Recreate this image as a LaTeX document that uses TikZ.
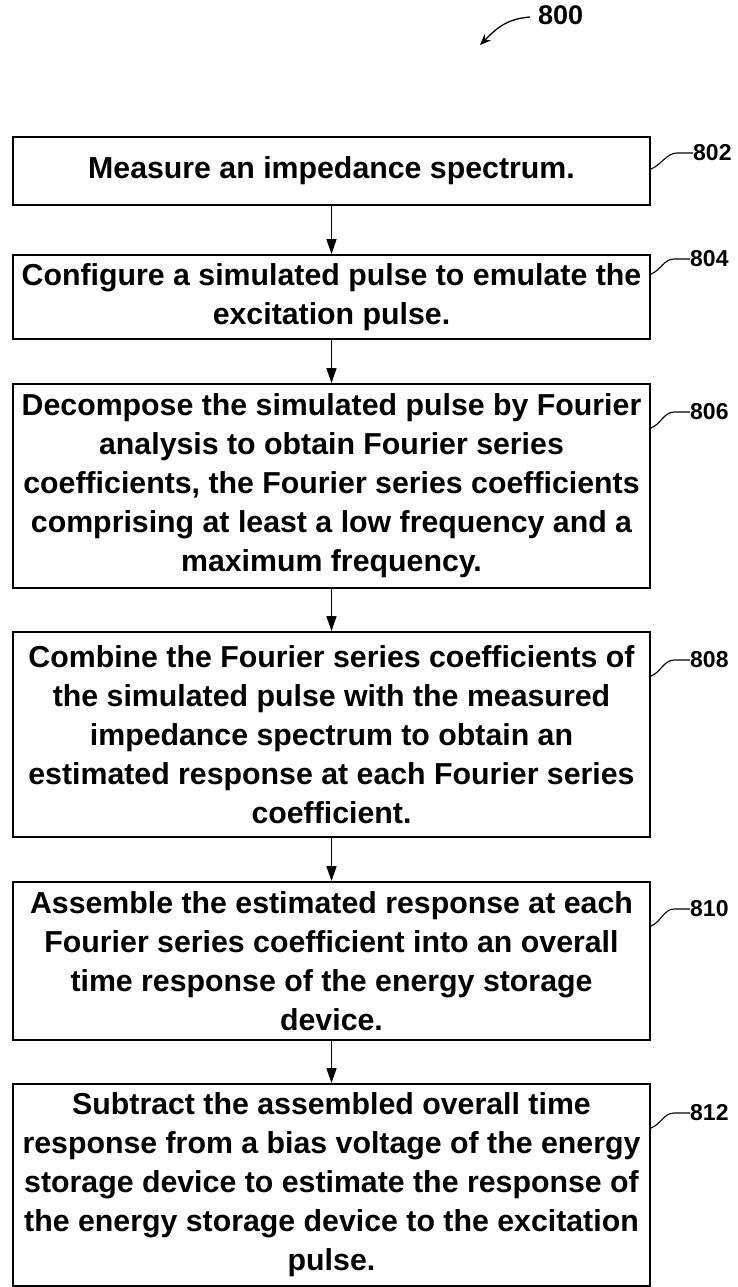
\documentclass[tikz,border=0pt]{standalone}
\usepackage{fontspec}
\setmainfont{Liberation Sans}
\usetikzlibrary{arrows.meta}
\begin{document}
\begin{tikzpicture}[x=1pt,y=-1pt,
  stepbox/.style={draw, line width=1.9pt, minimum width=637pt, inner sep=0pt, align=center,
    font=\bfseries\fontsize{30.3}{39}\selectfont},
  flow/.style={line width=1.6pt, -{Triangle[length=15pt,width=10pt]}},
  reflabel/.style={anchor=west, inner sep=0pt, font=\bfseries\fontsize{23}{26}\selectfont},
  leader/.style={line width=1.1pt}]
\useasboundingbox (0,0) rectangle (738,1287);

\node[stepbox, minimum height=68pt] (b1) at (331.5,171) {Measure an impedance spectrum.};
\node[stepbox, minimum height=84pt] (b2) at (331.5,297) {Configure a simulated pulse to emulate the\\excitation pulse.};
\node[stepbox, minimum height=204pt] (b3) at (331.5,486) {Decompose the simulated pulse by Fourier\\analysis to obtain Fourier series\\coefficients, the Fourier series coefficients\\comprising at least a low frequency and a\\maximum frequency.};
\node[stepbox, minimum height=205pt] (b4) at (331.5,734.5) {Combine the Fourier series coefficients of\\the simulated pulse with the measured\\impedance spectrum to obtain an\\estimated response at each Fourier series\\coefficient.};
\node[stepbox, minimum height=158pt] (b5) at (331.5,961) {Assemble the estimated response at each\\Fourier series coefficient into an overall\\time response of the energy storage\\device.};
\node[stepbox, minimum height=202pt] (b6) at (331.5,1185) {Subtract the assembled overall time\\response from a bias voltage of the energy\\storage device to estimate the response of\\the energy storage device to the excitation\\pulse.};

\draw[flow] (b1) -- (b2);
\draw[flow] (b2) -- (b3);
\draw[flow] (b3) -- (b4);
\draw[flow] (b4) -- (b5);
\draw[flow] (b5) -- (b6);

\node[reflabel] (l802) at (693,153) {802};
\node[reflabel] (l804) at (690,259) {804};
\node[reflabel] (l806) at (690,412) {806};
\node[reflabel] (l808) at (690,660) {808};
\node[reflabel] (l810) at (690,909) {810};
\node[reflabel] (l812) at (690,1113) {812};

\draw[leader] ([yshift=-33pt]b1.north east) .. controls +(10,-4) and +(-10,0) .. ([xshift=-16pt]l802.west) -- (l802.west);
\draw[leader] ([yshift=-20pt]b2.north east) .. controls +(10,-4) and +(-10,0) .. ([xshift=-16pt]l804.west) -- (l804.west);
\draw[leader] ([yshift=-45pt]b3.north east) .. controls +(10,-4) and +(-10,0) .. ([xshift=-16pt]l806.west) -- (l806.west);
\draw[leader] ([yshift=-45pt]b4.north east) .. controls +(10,-4) and +(-10,0) .. ([xshift=-16pt]l808.west) -- (l808.west);
\draw[leader] ([yshift=-45pt]b5.north east) .. controls +(10,-4) and +(-10,0) .. ([xshift=-16pt]l810.west) -- (l810.west);
\draw[leader] ([yshift=-45pt]b6.north east) .. controls +(10,-4) and +(-10,0) .. ([xshift=-16pt]l812.west) -- (l812.west);

\node[anchor=west, inner sep=0pt, font=\bfseries\fontsize{27}{30}\selectfont] (l800) at (538,15) {800};
\draw[line width=1.3pt, -{Stealth[length=11pt,width=9pt]}] ([xshift=-8pt,yshift=-2pt]l800.west) .. controls +(-25,2) and +(15,-15) .. (480,45);
\end{tikzpicture}
\end{document}
